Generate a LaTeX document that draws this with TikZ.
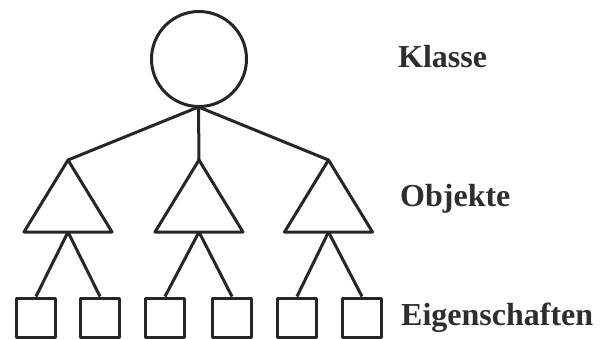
\documentclass[tikz,border=0pt]{standalone}
\usepackage{fontspec}
\setmainfont{Liberation Serif}
\begin{document}
\begin{tikzpicture}[x=1pt,y=-1pt,
  lw/.style={line width=3pt, draw=black!85, line join=round},
  klasse/.style={lw, circle, minimum size=95pt, inner sep=0pt},
  eig/.style={lw, rectangle, minimum size=39pt, inner sep=0pt},
  lab/.style={anchor=base west, inner sep=0pt, text=black!82,
    font=\fontsize{32}{32}\selectfont\bfseries}]
\useasboundingbox (0,0) rectangle (608,338);
% class
\node[klasse] (K) at (199,59) {};
\coordinate (J) at (198.5,107);
% objects (triangles)
\coordinate (Atop) at (68,160);   \coordinate (Abot) at (68,232);
\coordinate (Btop) at (199,160);  \coordinate (Bbot) at (199,232);
\coordinate (Ctop) at (328.5,160);\coordinate (Cbot) at (328.5,232);
\draw[lw] (Atop) -- ++(44,72) -- ++(-88,0) -- cycle;
\draw[lw] (Btop) -- ++(44,72) -- ++(-88,0) -- cycle;
\draw[lw] (Ctop) -- ++(44,72) -- ++(-88,0) -- cycle;
% properties (squares)
\node[eig] (a1) at (36,317.5) {};
\node[eig] (a2) at (100,317.5) {};
\node[eig] (b1) at (165,317.5) {};
\node[eig] (b2) at (232,317.5) {};
\node[eig] (c1) at (297,317.5) {};
\node[eig] (c2) at (362,317.5) {};
% connectors
\draw[lw] (J) -- (Atop);
\draw[lw] (J) -- (Btop);
\draw[lw] (J) -- (Ctop);
\draw[lw] (Abot) -- (a1.north);
\draw[lw] (Abot) -- (a2.north);
\draw[lw] (Bbot) -- (b1.north);
\draw[lw] (Bbot) -- (b2.north);
\draw[lw] (Cbot) -- (c1.north);
\draw[lw] (Cbot) -- (c2.north);
% labels
\node[lab] (lk) at (398,67) {Klasse};
\node[lab] (lo) at (400,206) {Objekte};
\node[lab] (le) at (401,325) {Eigenschaften};
\end{tikzpicture}
\end{document}
